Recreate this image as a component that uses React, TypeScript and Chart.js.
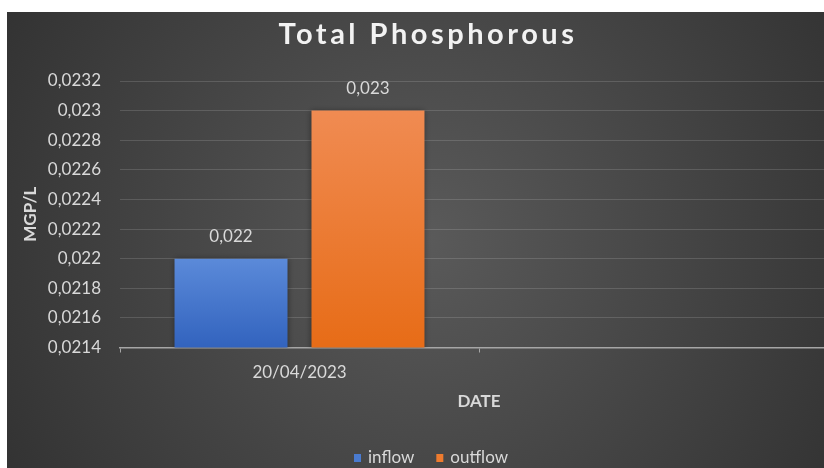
import React, { useEffect, useRef } from "react";
import { Chart, registerables } from "chart.js";

Chart.register(...registerables);

const CHART_TITLE = "Total Phosphorous";
const CATEGORIES = ["20/04/2023", ""];
const INFLOW = [0.022, null];
const OUTFLOW = [0.023, null];
const Y_TICKS = [0.0214, 0.0216, 0.0218, 0.022, 0.0222, 0.0224, 0.0226, 0.0228, 0.023, 0.0232];
const Y_TITLE = "MGP/L";
const X_TITLE = "DATE";

const FONT = "Lato, 'Open Sans', sans-serif";
const TEXT = "#d9d9d9";

const fmt = (v: number) => Number(v.toFixed(4)).toString().replace(".", ",");

const barGradient = (top: string, bottom: string) => (ctx: any) => {
  const chart = ctx.chart;
  const ca = chart.chartArea;
  if (!ca || ctx.raw == null) return bottom;
  const y = chart.scales.y.getPixelForValue(ctx.raw);
  const g = chart.ctx.createLinearGradient(0, y, 0, ca.bottom);
  g.addColorStop(0, top);
  g.addColorStop(1, bottom);
  return g;
};

const bgPlugin = {
  id: "bg",
  beforeDraw(chart: any) {
    const { ctx, width, height } = chart;
    ctx.save();
    const g = ctx.createRadialGradient(width / 2, height / 2, 0, width / 2, height / 2, 585);
    g.addColorStop(0, "#5a5a5a");
    g.addColorStop(1, "#2a2a2a");
    ctx.fillStyle = g;
    ctx.fillRect(0, 0, width, height);
    ctx.restore();
  },
};

const titlePlugin = {
  id: "ttl",
  afterDraw(chart: any) {
    const { ctx, width } = chart;
    ctx.save();
    (ctx as any).letterSpacing = "3.5px";
    ctx.font = `bold 29px ${FONT}`;
    ctx.fillStyle = "#f2f2f2";
    ctx.textAlign = "center";
    ctx.textBaseline = "alphabetic";
    ctx.fillText(CHART_TITLE, width / 2 + 2, 32);
    ctx.restore();
  },
};

const shadowPlugin = {
  id: "shadow",
  beforeDatasetDraw(chart: any) {
    const ctx = chart.ctx;
    ctx.save();
    ctx.shadowColor = "rgba(0,0,0,0.4)";
    ctx.shadowBlur = 6;
  },
  afterDatasetDraw(chart: any) {
    chart.ctx.restore();
  },
};

const labelPlugin = {
  id: "vals",
  afterDatasetsDraw(chart: any) {
    const ctx = chart.ctx;
    ctx.save();
    ctx.font = `17px ${FONT}`;
    ctx.fillStyle = TEXT;
    ctx.textAlign = "center";
    ctx.textBaseline = "middle";
    chart.data.datasets.forEach((ds: any, i: number) => {
      const meta = chart.getDatasetMeta(i);
      meta.data.forEach((el: any, j: number) => {
        const v = ds.data[j];
        if (v == null) return;
        ctx.fillText(fmt(v), el.x, el.y - 22);
      });
    });
    ctx.restore();
  },
};

const legendPlugin = {
  id: "lgd",
  afterDraw(chart: any) {
    const ctx = chart.ctx;
    ctx.save();
    ctx.font = `17px ${FONT}`;
    const box = 7;
    const gap = 7;
    const spacing = 22;
    const items = chart.data.datasets.map((d: any) => ({ text: d.label, color: d.legendColor }));
    const widths = items.map((it: any) => box + gap + ctx.measureText(it.text).width);
    const total = widths.reduce((a: number, b: number) => a + b, 0) + spacing * (items.length - 1);
    let x = 424 - total / 2;
    const y = 446;
    items.forEach((it: any, i: number) => {
      ctx.fillStyle = it.color;
      ctx.fillRect(x, y - 4, box, 8);
      ctx.fillStyle = TEXT;
      ctx.textAlign = "left";
      ctx.textBaseline = "middle";
      ctx.fillText(it.text, x + box + gap, y);
      x += widths[i] + spacing;
    });
    ctx.restore();
  },
};

export default function App() {
  const ref = useRef<HTMLCanvasElement>(null);
  useEffect(() => {
    if (!ref.current) return;
    const chart = new Chart(ref.current, {
      type: "bar",
      data: {
        labels: CATEGORIES,
        datasets: [
          {
            label: "inflow",
            data: INFLOW,
            backgroundColor: barGradient("#5b8ad9", "#3263be"),
            legendColor: "#4a7bd0",
          } as any,
          {
            label: "outflow",
            data: OUTFLOW,
            backgroundColor: barGradient("#f08b52", "#e76c17"),
            legendColor: "#ee7b2e",
          } as any,
        ],
      },
      options: {
        animation: false,
        responsive: true,
        maintainAspectRatio: false,
        categoryPercentage: 0.763,
        barPercentage: 0.825,
        layout: { padding: { left: 0, right: 7, top: 69, bottom: 52.5 } },
        plugins: {
          legend: { display: false },
          title: { display: false },
          tooltip: { enabled: false },
        },
        scales: {
          x: {
            afterFit: (s: any) => {
              s.height = 68;
            },
            grid: {
              drawOnChartArea: false,
              drawTicks: true,
              tickLength: 5,
              color: "#a6a6a6",
            },
            border: { display: true, color: "#a6a6a6", width: 1.5 },
            ticks: { color: TEXT, font: { family: FONT, size: 17 }, padding: 10 },
            title: {
              display: true,
              text: X_TITLE,
              color: TEXT,
              font: { family: FONT, size: 17, weight: "bold" },
              padding: { top: 0, bottom: 4 },
            },
          },
          y: {
            min: Y_TICKS[0],
            max: Y_TICKS[Y_TICKS.length - 1],
            afterBuildTicks: (s: any) => {
              s.ticks = Y_TICKS.map((v) => ({ value: v }));
            },
            afterFit: (s: any) => {
              s.width = 113;
            },
            grid: { color: "rgba(255,255,255,0.14)", drawTicks: false },
            border: { display: false },
            ticks: {
              color: TEXT,
              font: { family: FONT, size: 17 },
              padding: 19,
              callback: (v: any) => fmt(Number(v)),
            },
            title: {
              display: true,
              text: Y_TITLE,
              color: TEXT,
              font: { family: FONT, size: 17, weight: "bold" },
              padding: { top: 13, bottom: 0 },
            },
          },
        },
      } as any,
      plugins: [bgPlugin, shadowPlugin, labelPlugin, titlePlugin, legendPlugin],
    });
    return () => chart.destroy();
  }, []);

  return (
    <div
      style={{
        position: "fixed",
        left: 0,
        top: 0,
        width: 824,
        height: 468,
        overflow: "hidden",
        background: "#ffffff",
      }}
    >
      <div style={{ position: "absolute", left: 7, top: 12, width: 838, height: 456 }}>
        <canvas ref={ref} />
      </div>
    </div>
  );
}
